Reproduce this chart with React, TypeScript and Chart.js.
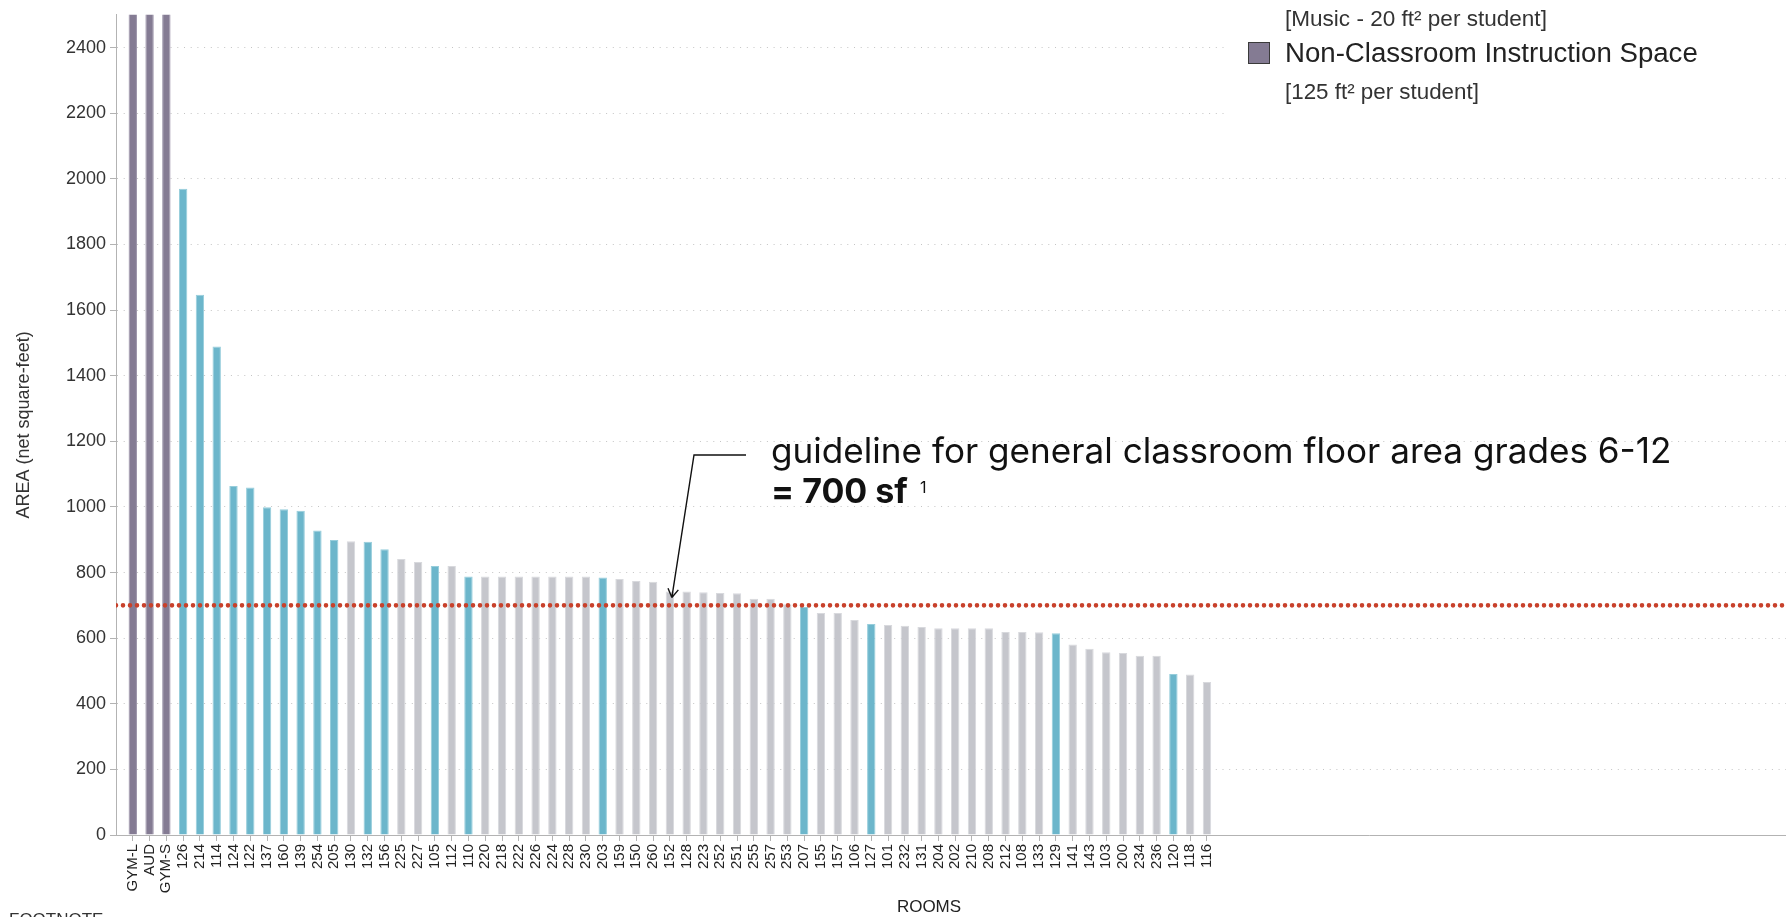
import React, { useEffect, useRef } from "react";
import { Chart, registerables } from "chart.js";

Chart.register(...registerables);

// ---------- data ----------
const rooms = [
  "GYM-L", "AUD", "GYM-S", "126", "214", "114", "124", "122", "137", "160",
  "139", "254", "205", "130", "132", "156", "225", "227", "105", "112",
  "110", "220", "218", "222", "226", "224", "228", "230", "203", "159",
  "150", "260", "152", "128", "223", "252", "251", "255", "257", "253",
  "207", "155", "157", "106", "127", "101", "232", "131", "204", "202",
  "210", "208", "212", "108", "133", "129", "141", "143", "103", "200",
  "234", "236", "120", "118", "116",
];

// net square feet (first three are off the top of the scale)
const areas = [
  5200, 4200, 3100, 1970, 1647, 1489, 1064, 1059, 999, 993,
  988, 928, 899, 895, 894, 871, 841, 832, 820, 820,
  788, 788, 788, 788, 788, 788, 788, 788, 785, 780,
  774, 772, 742, 742, 740, 738, 737, 720, 720, 703,
  695, 677, 677, 655, 643, 640, 638, 634, 630, 630,
  630, 630, 619, 619, 618, 615, 581, 568, 557, 555,
  546, 546, 491, 489, 466,
];

// N = non-classroom instruction space, S = specialized classroom, G = general classroom
const spaceTypes = [
  "N", "N", "N", "S", "S", "S", "S", "S", "S", "S",
  "S", "S", "S", "G", "S", "S", "G", "G", "S", "G",
  "S", "G", "G", "G", "G", "G", "G", "G", "S", "G",
  "G", "G", "G", "G", "G", "G", "G", "G", "G", "G",
  "S", "G", "G", "G", "S", "G", "G", "G", "G", "G",
  "G", "G", "G", "G", "G", "S", "G", "G", "G", "G",
  "G", "G", "S", "G", "G",
];

const yTickValues = [0, 200, 400, 600, 800, 1000, 1200, 1400, 1600, 1800, 2000, 2200, 2400];
const yMax = 2500;
const xDomain = [-1, 98.5];
const guidelineValue = 700;
const guidelineRoom = "152";

// ---------- styles ----------
const typeFill: Record<string, string> = { N: "#847b93", S: "#6cb6cb", G: "#c5c6cc" };
const typeEdge: Record<string, string> = { N: "#9d95ab", S: "#96cddb", G: "#d8d9dd" };
const SANS = '"Liberation Sans", Arial, Helvetica, sans-serif';
const GEO = 'Inter, Lato, sans-serif';

function fitSize(ctx: CanvasRenderingContext2D, text: string, weight: string, family: string, target: number) {
  ctx.font = `${weight} 100px ${family}`;
  const w = ctx.measureText(text).width;
  return (100 * target) / w;
}

function drawFitted(
  ctx: CanvasRenderingContext2D, text: string, x: number, y: number,
  weight: string, family: string, target: number, color: string
) {
  const size = fitSize(ctx, text, weight, family, target);
  ctx.font = `${weight} ${size}px ${family}`;
  ctx.fillStyle = color;
  ctx.textAlign = "left";
  ctx.textBaseline = "alphabetic";
  ctx.fillText(text, x, y);
}

const annotationPlugin = {
  id: "annotations",
  afterDraw(chart: any) {
    const { ctx } = chart;
    const xs = chart.scales.x;
    const ys = chart.scales.y;
    ctx.save();

    // legend panel (visible part)
    ctx.fillStyle = "#ffffff";
    ctx.fillRect(1225, 0, chart.width - 1225, 150);
    drawFitted(ctx, "[Music - 20 ft² per student]", 1285, 26, "400", SANS, 262, "#333");
    ctx.fillStyle = typeFill.N;
    ctx.fillRect(1248.5, 42.5, 21, 21);
    ctx.strokeStyle = "#3a3a3a";
    ctx.lineWidth = 1;
    ctx.strokeRect(1248.5, 42.5, 21, 21);
    drawFitted(ctx, "Non-Classroom Instruction Space", 1285, 62, "400", SANS, 413, "#222");
    drawFitted(ctx, "[125 ft² per student]", 1285, 99, "400", SANS, 194, "#333");

    // guideline annotation
    drawFitted(ctx, "guideline for general classroom floor area grades 6-12", 771, 463, "400", GEO, 901, "#111");
    drawFitted(ctx, "= 700 sf", 771, 503, "700", GEO, 137, "#111");
    ctx.font = `400 16px ${GEO}`;
    ctx.fillStyle = "#111";
    ctx.textAlign = "left";
    ctx.textBaseline = "alphabetic";
    ctx.fillText("1", 920, 493);

    // arrow
    const tipX = xs.getPixelForValue(rooms.indexOf(guidelineRoom)) + 2;
    const tipY = ys.getPixelForValue(724);
    const kx = 694, ky = 455;
    ctx.strokeStyle = "#111";
    ctx.lineWidth = 1.4;
    ctx.beginPath();
    ctx.moveTo(746, ky);
    ctx.lineTo(kx, ky);
    ctx.lineTo(tipX, tipY);
    const ang = Math.atan2(tipY - ky, tipX - kx);
    const hl = 10;
    for (const d of [-0.55, 0.55]) {
      ctx.moveTo(tipX, tipY);
      ctx.lineTo(tipX - hl * Math.cos(ang + d), tipY - hl * Math.sin(ang + d));
    }
    ctx.stroke();

    // axis title and footnote
    ctx.font = `400 17px ${SANS}`;
    ctx.fillStyle = "#222";
    ctx.textAlign = "center";
    ctx.textBaseline = "middle";
    ctx.fillText("ROOMS", 929, 907);
    ctx.textAlign = "left";
    ctx.textBaseline = "top";
    ctx.fillStyle = "#333";
    ctx.fillText("FOOTNOTE", 9, 912);

    ctx.restore();
  },
};

export default function App() {
  const ref = useRef<HTMLCanvasElement>(null);

  useEffect(() => {
    document.body.style.margin = "0";
    document.body.style.overflow = "hidden";
    const canvas = ref.current;
    if (!canvas) return;

    const barData = rooms.map((r, i) => ({ x: i, y: areas[i] }));
    const lineData = xDomain.map((x) => ({ x, y: guidelineValue }));

    const chart = new Chart(canvas, {
      type: "bar",
      data: {
        datasets: [
          {
            type: "line",
            data: lineData,
            borderColor: "#c8412b",
            borderWidth: 4.6,
            borderDash: [0, 7],
            borderCapStyle: "round",
            pointRadius: 0,
            fill: false,
            order: 0,
          } as any,
          {
            type: "bar",
            data: barData,
            backgroundColor: spaceTypes.map((t) => typeFill[t]),
            borderColor: spaceTypes.map((t) => typeEdge[t]),
            borderWidth: 1,
            borderSkipped: "bottom",
            barPercentage: 0.5,
            categoryPercentage: 1,
            order: 1,
          } as any,
        ],
      },
      options: {
        responsive: false,
        animation: false,
        devicePixelRatio: 1,
        layout: { padding: { top: 10, left: 0, right: 0, bottom: 0 } },
        plugins: { legend: { display: false }, tooltip: { enabled: false } },
        scales: {
          x: {
            type: "linear",
            min: xDomain[0],
            max: xDomain[1],
            offset: false,
            afterBuildTicks: (s: any) => {
              s.ticks = rooms.map((_, i) => ({ value: i }));
            },
            afterFit: (s: any) => {
              s.height = 82;
            },
            ticks: {
              autoSkip: false,
              minRotation: 90,
              maxRotation: 90,
              padding: 3,
              color: "#222",
              font: { size: 15, family: SANS },
              callback: (v: any) => rooms[v] ?? null,
            },
            grid: { offset: false, drawOnChartArea: false, drawTicks: true, tickLength: 6, color: "#b3b3b3" },
            border: { color: "#b3b3b3", width: 1 },
          },
          y: {
            type: "linear",
            min: 0,
            max: yMax,
            afterBuildTicks: (s: any) => {
              s.ticks = yTickValues.map((v) => ({ value: v }));
            },
            afterFit: (s: any) => {
              s.width = 116;
            },
            ticks: {
              padding: 4,
              color: "#333",
              font: { size: 18, family: SANS },
              callback: (v: any) => String(v),
            },
            grid: {
              color: (c: any) => (c.tick && c.tick.value === 0 ? "rgba(0,0,0,0)" : "#c4c4c4"),
              tickColor: "#b3b3b3",
              tickLength: 6,
              tickBorderDash: [],
            },
            border: { color: "#b3b3b3", width: 1, dash: [1, 5.7] },
            title: {
              display: true,
              text: "AREA (net square-feet)",
              color: "#333",
              font: { size: 18, family: SANS },
              padding: { top: 13, bottom: 0 },
            },
          },
        },
      } as any,
      plugins: [annotationPlugin],
    });

    return () => chart.destroy();
  }, []);

  return (
    <div style={{ width: 1786, height: 917, position: "relative" }}>
      <canvas ref={ref} width={1786} height={917} style={{ display: "block", width: 1786, height: 917 }} />
    </div>
  );
}
